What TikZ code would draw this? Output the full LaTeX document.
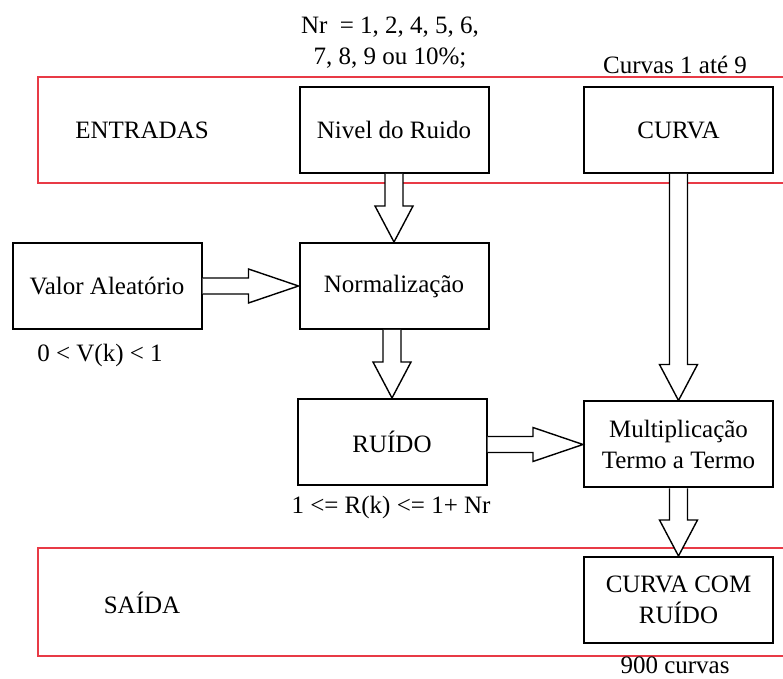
\documentclass[tikz,border=0pt]{standalone}
\usepackage{fontspec}
\setmainfont{Liberation Serif}
\usepackage{tikz}
\usepackage{xcolor}
\usetikzlibrary{calc,positioning}
\definecolor{vermelhoreg}{RGB}{232,58,70}

% setas largas (vazadas)
\newcommand{\setav}[2]{%
  \draw[seta] ($(#1.south -| #2.north)+(-9,0)$) -- ($(#2.north)+(-9,-36)$) -- ++(-10,0)
    -- (#2.north) -- ($(#2.north)+(19,-36)$) -- ++(-10,0) -- ($(#1.south -| #2.north)+(9,0)$);}
\newcommand{\setah}[2]{%
  \draw[seta] ($(#1.east |- #2.west)+(0,-8)$) -- ($(#2.west)+(-50,-8)$) -- ++(0,-9)
    -- (#2.west) -- ($(#2.west)+(-50,17)$) -- ++(0,-9) -- ($(#1.east |- #2.west)+(0,8)$);}

\begin{document}
\begin{tikzpicture}[x=0.5pt, y=-0.5pt,
    font=\fontsize{12.5}{15.5}\selectfont,
    caixa/.style={draw, line width=1pt, minimum width=94.5pt, minimum height=43pt, align=center, inner sep=2pt},
    regiao/.style={draw=vermelhoreg, line width=1pt},
    seta/.style={draw, line width=0.7pt, fill=white, line join=miter},
    rotulo/.style={align=center, inner sep=0pt}]
    \useasboundingbox (0,0) rectangle (783,679);

    % regioes de entrada e saida
    \draw[regiao] (790,77) -| (38,183) -- (790,183);
    \draw[regiao] (790,548) -| (38,656) -- (790,656);
    \node[rotulo] (entradas) at (142,130) {ENTRADAS};
    \node[rotulo] (saidatxt) at (142,603) {SAÍDA};

    % blocos
    \node[caixa] (nivel) at (394,130) {Nivel do Ruido};
    \node[caixa] (curva) at (678.5,130) {CURVA};
    \node[caixa] (valor) at (107,286) {Valor Aleatório};
    \node[caixa] (norm) at (394,286) {Normalização};
    \node[caixa] (ruido) at (392,442) {RUÍDO};
    \node[caixa] (mult) at (678.5,444.5) {Multiplicação\\Termo a Termo};
    \node[caixa] (saida) at (678.5,600) {CURVA COM\\RUÍDO};

    % textos auxiliares
    \node[rotulo] (nr) at (390,43) {Nr~ = 1, 2, 4, 5, 6,\\7, 8, 9 ou 10\%;};
    \node[rotulo] (curvas) at (675,65) {Curvas 1 até 9};
    \node[rotulo] (vk) at (100,355) {0 < V(k) < 1};
    \node[rotulo] (rk) at (391,507) {1 <= R(k) <= 1+ Nr};
    \node[rotulo] (ncurvas) at (675,665) {900 curvas};

    % setas
    \setav{nivel}{norm}
    \setah{valor}{norm}
    \setav{norm}{ruido}
    \setav{curva}{mult}
    \setah{ruido}{mult}
    \setav{mult}{saida}
\end{tikzpicture}
\end{document}
